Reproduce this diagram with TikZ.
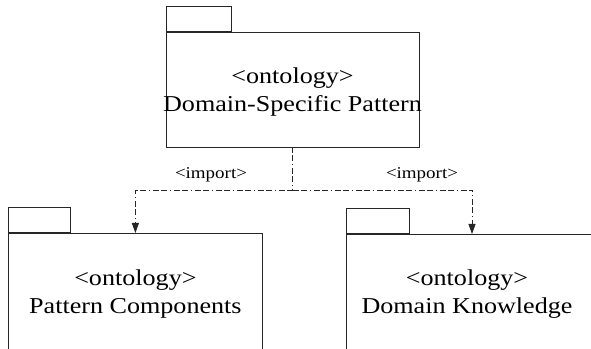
\documentclass[tikz,border=0pt]{standalone}
\usepackage{fontspec}
\setmainfont{Liberation Serif}[FakeStretch=1.15]
\usetikzlibrary{arrows.meta,calc}
\begin{document}
\begin{tikzpicture}[x=1pt,y=1pt,
  pkg/.style={draw=black!85,line width=0.8pt,fill=white,inner sep=0pt},
  pkgtab/.style={draw=black!85,line width=0.8pt,inner sep=0pt},
  pkgtext/.style={align=center,inner sep=0pt,
    font=\fontsize{22.7}{28}\selectfont},
  imp/.style={draw=black!85,line width=0.8pt,
    dash pattern=on 6pt off 2pt on 6pt off 3pt on 1pt off 3pt},
  imptip/.style={-{Triangle[length=10pt,width=7pt]}},
  implabel/.style={font=\fontsize{16.5}{19}\selectfont,inner sep=0pt}]
\useasboundingbox (0,0) rectangle (591,348);
\clip (0,0) rectangle (591,348);

% Domain-Specific Pattern package
\node[pkg,minimum width=253pt,minimum height=115pt] (dsp) at (292.5,258.5) {};
\node[pkgtab,minimum width=65pt,minimum height=25pt,anchor=south west] (dsptab)
  at (dsp.north west) {};
\node[pkgtext] (dsptext) at ([yshift=-3pt]dsp.center)
  {<ontology>\\Domain-Specific Pattern};

% Pattern Components package (lower edge runs off the page)
\node[pkg,minimum width=254pt,minimum height=116pt,anchor=north west] (pc)
  at (8,115) {};
\node[pkgtab,minimum width=62pt,minimum height=25pt,anchor=south west] (pctab)
  at (pc.north west) {};
\node[pkgtext] (pctext) at ([yshift=-3pt]pc.center)
  {<ontology>\\Pattern Components};

% Domain Knowledge package (runs off the page to the right and below)
\node[pkg,minimum width=300pt,minimum height=130pt,anchor=north west] (dk)
  at (346,114) {};
\node[pkgtab,minimum width=63pt,minimum height=25pt,anchor=south west] (dktab)
  at (dk.north west) {};
\node[pkgtext] (dktext) at (467,54) {<ontology>\\Domain Knowledge};

% import dependencies
\coordinate (split) at (dsp.south |- 0,158);
\draw[imp] (dsp.south) -- (split);
\draw[imp,imptip] (split) -| (pc.north);
\draw[imp,imptip] (split) -| ($(dk.north west)+(126,0)$);

\node[implabel] (impl) at (211,173) {<import>};
\node[implabel] (impr) at (422,173) {<import>};
\end{tikzpicture}
\end{document}
